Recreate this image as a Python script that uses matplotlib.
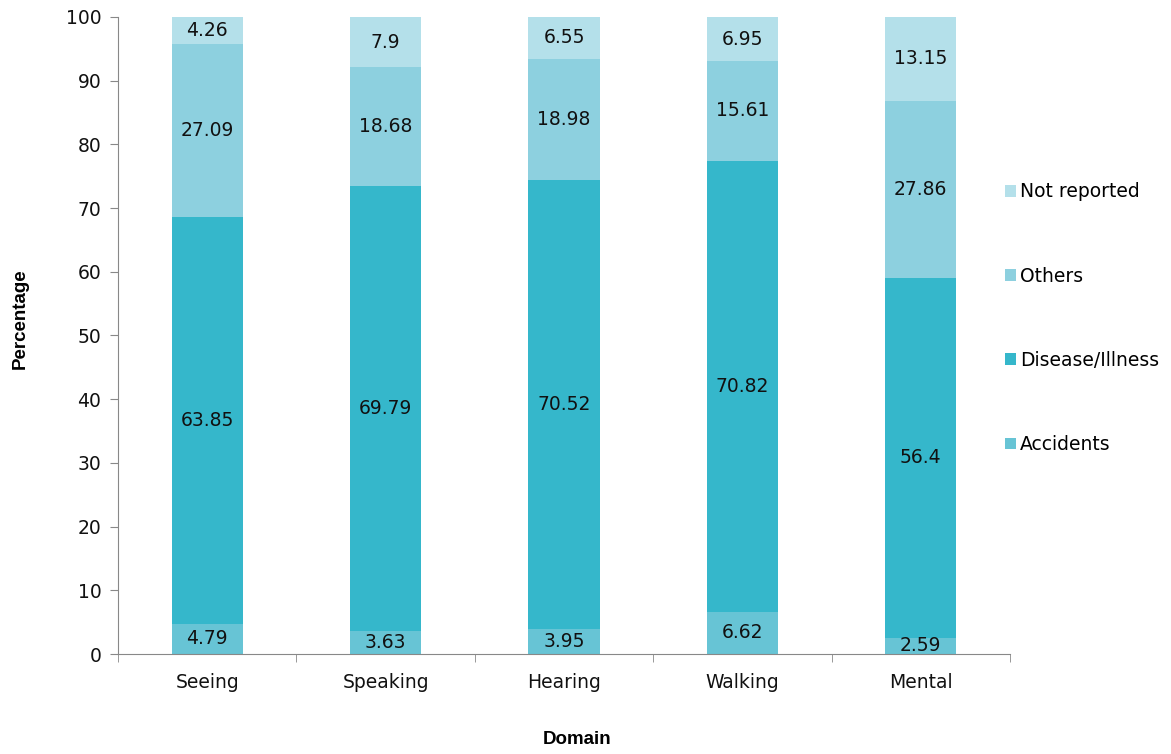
import matplotlib
matplotlib.use("Agg")
import matplotlib.pyplot as plt
import numpy as np

categories = ["Seeing", "Speaking", "Hearing", "Walking", "Mental"]
accidents = [4.79, 3.63, 3.95, 6.62, 2.59]
disease = [63.85, 69.79, 70.52, 70.82, 56.4]
others = [27.09, 18.68, 18.98, 15.61, 27.86]
not_reported = [4.26, 7.9, 6.55, 6.95, 13.15]
series_names = ["Accidents", "Disease/Illness", "Others", "Not reported"]
colors = ["#67C4D5", "#35B7CB", "#8DD0DF", "#B4E0EA"]

plt.rcParams['font.family'] = ['DejaVu Sans']
fig = plt.figure(figsize=(11.71, 7.54), dpi=100)
ax = fig.add_axes([0.1008, 0.1326, 0.7617, 0.845])

FS = 13.5
x = np.arange(len(categories))
bottom = np.zeros(len(categories))
handles = []
for name, vals, c in zip(series_names, [accidents, disease, others, not_reported], colors):
    vals = np.array(vals)
    bars = ax.bar(x, vals, 0.4, bottom=bottom, color=c, label=name, edgecolor='none')
    handles.append(bars)
    for xi, b, v in zip(x, bottom, vals):
        ax.text(xi, b + v / 2, f"{v:g}", ha='center', va='center', fontsize=FS, color='#111111')
    bottom += vals

ax.set_xlim(-0.5, len(categories) - 0.5)
ax.set_ylim(0, 100)
ax.set_yticks(np.arange(0, 101, 10))
ax.set_xticks(x)
ax.set_xticklabels(categories)
ax.set_xticks(np.arange(-0.5, len(categories), 1), minor=True)
ax.tick_params(axis='x', which='major', length=0, labelsize=FS, pad=14, labelcolor='#111111')
ax.tick_params(axis='x', which='minor', length=6, color='#888888', direction='out')
ax.tick_params(axis='y', length=6, color='#888888', labelsize=FS, pad=6, labelcolor='#111111')
for s in ['top', 'right']:
    ax.spines[s].set_visible(False)
for s in ['left', 'bottom']:
    ax.spines[s].set_color('#888888')

fig.text(0.017, 0.578, "Percentage", rotation=90, ha='center', va='center',
         fontsize=13.5, fontweight='bold', family='Liberation Sans')
fig.text(0.493, 0.0186, "Domain", ha='center', va='center',
         fontsize=13.5, fontweight='bold', family='Liberation Sans')

leg = fig.legend(handles[::-1], series_names[::-1], loc='center left',
                 bbox_to_anchor=(0.844, 0.578), frameon=False, fontsize=FS,
                 handlelength=0.6, handleheight=0.6, handletextpad=0.2,
                 labelspacing=3.48)

fig.savefig("out.png", dpi=100)
